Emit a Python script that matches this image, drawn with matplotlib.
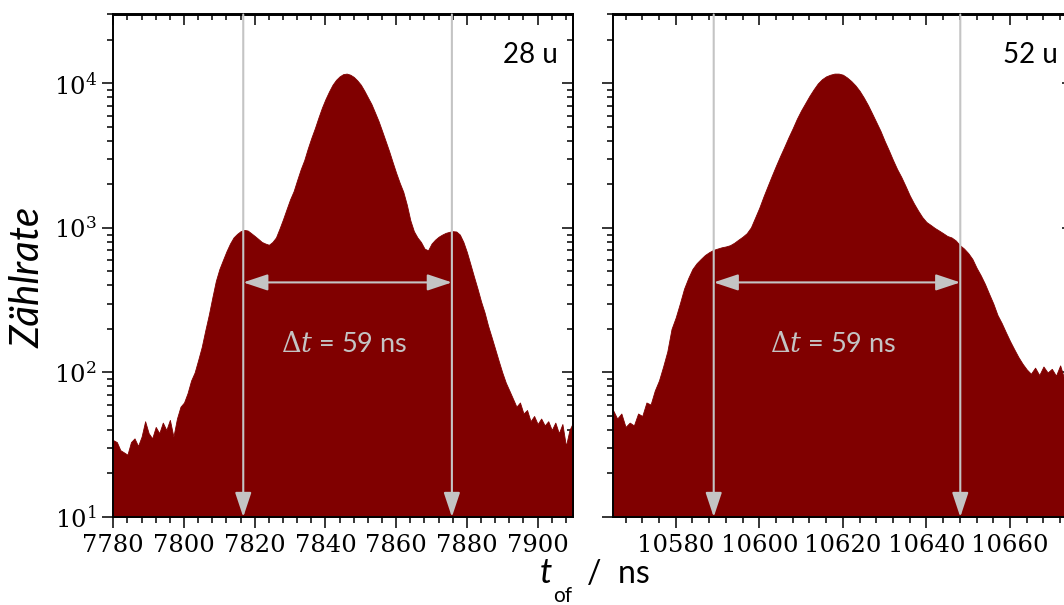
import numpy as np
import matplotlib
matplotlib.use("Agg")
import matplotlib.pyplot as plt
from matplotlib.ticker import MultipleLocator, LogLocator, NullFormatter

# ---- time-of-flight spectra (counts per 1 ns bin) ----
tof_28 = np.arange(7780, 7911)
counts_28 = [
    34, 33, 29, 28, 27, 33, 35, 31, 36, 46,
    38, 35, 42, 38, 45, 40, 47, 36, 48, 58,
    62, 72, 88, 100, 122, 150, 195, 250, 330, 430,
    520, 600, 690, 780, 860, 910, 950, 970, 960, 920,
    880, 840, 800, 780, 765, 800, 860, 990, 1150, 1350,
    1580, 1800, 2150, 2550, 2950, 3550, 4200, 4900, 5800, 6800,
    7800, 8800, 9800, 10600, 11200, 11600, 11700, 11500, 11100, 10500,
    9800, 8900, 8000, 7200, 6300, 5500, 4700, 4000, 3400, 2850,
    2400, 2050, 1780, 1450, 1130, 950, 860, 800, 720, 700,
    780, 830, 870, 900, 925, 940, 950, 945, 900, 800,
    680, 560, 460, 380, 310, 260, 210, 175, 145, 120,
    100, 85, 75, 66, 58, 62, 52, 55, 46, 50,
    44, 48, 43, 46, 40, 45, 38, 44, 31, 40,
    45,
]

tof_52 = np.arange(10565, 10676)
counts_52 = [
    55, 48, 52, 42, 45, 43, 52, 50, 62, 60,
    75, 88, 110, 140, 200, 240, 300, 380, 450, 520,
    570, 610, 650, 680, 705, 720, 735, 745, 760, 790,
    830, 870, 920, 1010, 1180, 1380, 1650, 1950, 2300, 2700,
    3150, 3650, 4250, 4900, 5700, 6500, 7300, 8200, 9100, 10000,
    10700, 11200, 11500, 11700, 11700, 11500, 11000, 10400, 9700, 8900,
    8000, 7100, 6200, 5400, 4700, 4000, 3450, 2950, 2550, 2250,
    1950, 1680, 1480, 1320, 1190, 1100, 1050, 1000, 960, 920,
    880, 860, 820, 760, 720, 670, 610, 530, 470, 410,
    350, 300, 250, 220, 190, 165, 145, 128, 115, 105,
    98, 108, 96, 110, 100, 106, 95, 112, 90, 104,
    100,
]

panel_labels = ["28 u", "52 u"]
xlims = [(7780, 7910), (10565, 10675)]
peak_centres = [7846.25, 10618.6]
fwhm_ns = 59
ylim = (10, 3e4)

RED = "#800000"
GREY = "#c4c4c4"
SANS = "Lato"

plt.rcParams["font.family"] = "DejaVu Serif"
plt.rcParams["mathtext.fontset"] = "dejavuserif"
plt.rcParams["axes.linewidth"] = 1.4

W, H = 1064, 605
fig = plt.figure(figsize=(W / 100, H / 100), dpi=100)


def box(l, t, r, b):
    return [l / W, 1 - b / H, (r - l) / W, (b - t) / H]


ax1 = fig.add_axes(box(113.3, 14.5, 573, 517))
ax2 = fig.add_axes(box(613, 14.5, 1072.7, 517))

series = [(tof_28, counts_28), (tof_52, counts_52)]

for i, (ax, (t, c)) in enumerate(zip([ax1, ax2], series)):
    ax.fill_between(t, 1, c, color=RED, linewidth=0.6, edgecolor=RED, zorder=2)
    ax.set_yscale("log")
    ax.set_ylim(*ylim)
    ax.set_xlim(*xlims[i])

    ax.xaxis.set_major_locator(MultipleLocator(20))
    ax.xaxis.set_minor_locator(MultipleLocator(4))
    ax.yaxis.set_major_locator(LogLocator(10))
    ax.yaxis.set_minor_locator(LogLocator(10, subs=range(2, 10)))
    ax.yaxis.set_minor_formatter(NullFormatter())
    ax.tick_params(which="both", direction="out", width=1.1, top=False,
                   right=False, labelsize=17.5, colors="black")
    ax.tick_params(which="major", length=8, pad=4)
    ax.tick_params(which="minor", length=4.5)
    if i == 1:
        ax.tick_params(labelleft=False)

    # mirrored ticks on top and right, pointing inward
    sx = ax.secondary_xaxis("top")
    sx.xaxis.set_major_locator(MultipleLocator(20))
    sx.xaxis.set_minor_locator(MultipleLocator(4))
    sx.tick_params(which="both", direction="in", width=1.1, labeltop=False)
    sx.tick_params(which="major", length=8)
    sx.tick_params(which="minor", length=4.5)

    sy = ax.secondary_yaxis("right")
    sy.yaxis.set_major_locator(LogLocator(10))
    sy.yaxis.set_minor_locator(LogLocator(10, subs=range(2, 10)))
    sy.tick_params(which="both", direction="in", width=1.1, labelright=False)
    sy.tick_params(which="major", length=8)
    sy.tick_params(which="minor", length=4.5)

    # FWHM markers
    left = peak_centres[i] - fwhm_ns / 2
    right = peak_centres[i] + fwhm_ns / 2
    head = "-|>,head_length=1.5,head_width=0.5"
    for xv in (left, right):
        ax.annotate("", xy=(xv, ylim[0]), xytext=(xv, ylim[1]),
                    arrowprops=dict(arrowstyle=head, color=GREY, lw=1.5,
                                    shrinkA=0, shrinkB=0, mutation_scale=10),
                    zorder=4)
    ax.annotate("", xy=(left, 420), xytext=(right, 420),
                arrowprops=dict(arrowstyle="<|-|>,head_length=1.5,head_width=0.5",
                                color=GREY, lw=1.5, shrinkA=0, shrinkB=0,
                                mutation_scale=10),
                zorder=4)
    ax.text(peak_centres[i] - 1, 155, r"$\Delta$$\it{t}$ = %d ns" % fwhm_ns,
            ha="center", va="center", color=GREY, fontsize=19.5,
            family=SANS, zorder=5)

    ax.text(0.967, 0.919, panel_labels[i], transform=ax.transAxes,
            ha="right", va="center", fontsize=20, family=SANS, color="black")

fig.text(28 / W, 1 - 277 / H, "Zählrate", rotation=90, ha="center",
         va="center", fontsize=29, family=SANS, style="italic")

fig.text(546 / W, 1 - 583 / H, "t", ha="center", va="baseline",
         fontsize=25, family=SANS, style="italic")
fig.text(563 / W, 1 - 602 / H, "of", ha="center", va="baseline",
         fontsize=15, family=SANS)
fig.text(587 / W, 1 - 583 / H, "/  ns", ha="left", va="baseline",
         fontsize=23, family=SANS)

fig.savefig("out.png", dpi=100)
